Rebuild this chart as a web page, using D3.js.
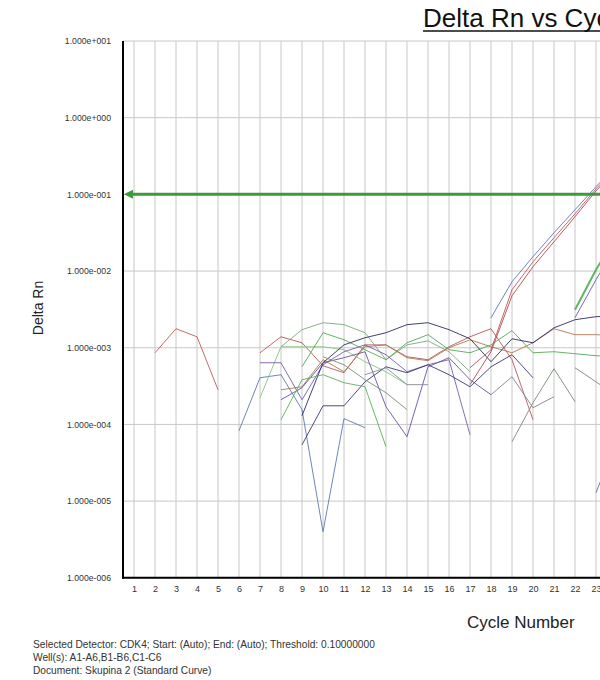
<!DOCTYPE html>
<html><head><meta charset="utf-8">
<script src="https://cdn.jsdelivr.net/npm/d3@7/dist/d3.min.js"></script>
<style>
body{margin:0;background:#fff;}
text{font-family:"Liberation Sans",Arial,sans-serif;}
</style>
</head><body>
<svg id="chart" width="600" height="680"></svg>
<script>
// ---- data ----
const gridCycles = [1,2,3,4,5,6,7,8,9,10,11,12,13,14,15,16,17,18,19,20,21,22,23,24];
const xTicks = [1,2,3,4,5,6,7,8,9,10,11,12,13,14,15,16,17,18,19,20,21,22,23];
const yTicks = [1e1,1e0,1e-1,1e-2,1e-3,1e-4,1e-5,1e-6];
const yTickLabels = ["1.000e+001","1.000e+000","1.000e-001","1.000e-002","1.000e-003","1.000e-004","1.000e-005","1.000e-006"];
const threshold = 0.1;
const titleText = "Delta Rn vs Cycle Number";
const xLabel = "Cycle Number";
const yLabel = "Delta Rn";
const footerLines = [
  "Selected Detector: CDK4; Start: (Auto); End: (Auto); Threshold: 0.10000000",
  "Well(s): A1-A6,B1-B6,C1-C6",
  "Document: Skupina 2 (Standard Curve)"
];

// each well: [cycle, Delta Rn]
const s01 = [[2,8.6e-4],[3,1.77e-3],[4,1.39e-3],[5,2.83e-4]];
const s02 = [[6,8.28e-5],[7,4.06e-4],[8,4.45e-4],[9,1.56e-4],[10,3.99e-6],[11,1.19e-4],[12,9.06e-5]];
const s03 = [[7,8.6e-4],[8,1.39e-3],[9,1.16e-3],[10,5.82e-4],[11,4.72e-4],[12,1.09e-3],[13,1.09e-3],[14,7.63e-4],[15,6.98e-4],[16,1.03e-3],[17,1.39e-3],[18,1.77e-3],[19,6.98e-4],[20,1.15e-4]];
const s04 = [[7,2.23e-4],[8,1.03e-3],[9,1.03e-3],[10,1.03e-3],[11,9.42e-4],[12,6.57e-4],[13,4.87e-4],[14,3.30e-4]];
const s05 = [[8,1.03e-3],[9,1.72e-3],[10,2.12e-3],[11,2.0e-3],[12,1.57e-3],[13,6.98e-4],[14,1.09e-3],[15,1.23e-3],[16,8.87e-4],[17,4.87e-4]];
const s06 = [[9,5.65e-4],[10,1.57e-3],[11,1.27e-3],[12,9.42e-4],[13,6.98e-4],[14,1.16e-3],[15,1.48e-3],[16,9.42e-4],[17,8.6e-4],[18,1.09e-3],[19,1.67e-3],[20,8.6e-4],[21,8.87e-4],[22,8.36e-4],[23,7.87e-4],[24,7.63e-4]];
const s07 = [[8,2.83e-4],[9,3.10e-4],[10,6.98e-4],[11,4.87e-4],[12,1.03e-3],[13,1.09e-3],[14,7.41e-4],[15,6.77e-4],[16,1.0e-3],[17,1.27e-3],[18,1.03e-3],[19,8.6e-4],[20,1.16e-3],[21,1.77e-3],[22,1.48e-3],[23,1.48e-3],[24,1.43e-3]];
const s08 = [[7,6.37e-4],[8,6.37e-4],[9,2.10e-4],[10,6.0e-4],[11,8.87e-4],[12,1.09e-3],[13,8.11e-4],[14,4.87e-4],[15,6.0e-4],[16,6.98e-4],[17,7.34e-5]];
const s09 = [[8,2.10e-4],[9,3.01e-4],[10,6.37e-4],[11,7.41e-4],[12,8.87e-4],[13,1.70e-4],[14,6.92e-5],[15,5.65e-4],[16,7.41e-4],[17,3.83e-4],[18,2.44e-4]];
const s10 = [[9,5.43e-5],[10,1.75e-4],[11,1.75e-4],[12,3.60e-4],[13,5.65e-4],[14,4.72e-4],[15,6.0e-4],[16,4.45e-4],[17,3.10e-4],[18,5.65e-4],[19,8.11e-4],[20,4.06e-4]];
const s11 = [[9,1.30e-4],[10,6.37e-4],[11,1.09e-3],[12,1.35e-3],[13,1.57e-3],[14,2.0e-3],[15,2.12e-3],[16,1.72e-3],[17,1.31e-3],[18,6.57e-4],[19,1.31e-3],[20,1.16e-3],[21,1.82e-3],[22,2.32e-3],[23,2.54e-3],[24,2.61e-3]];
const s12 = [[8,1.15e-4],[9,3.83e-4],[10,4.45e-4],[11,3.50e-4],[12,3.10e-4],[13,5.12e-5]];
const s13 = [[10,7.63e-4],[11,6.0e-4],[12,3.83e-4],[13,2.59e-4],[14,1.56e-4]];
const s14 = [[12,4.45e-4],[13,5.48e-4],[14,3.30e-4],[15,3.30e-4]];
const s15 = [[19,5.95e-5],[20,1.92e-4],[21,5.32e-4],[22,1.98e-4]];
const s16 = [[18,2.44e-4],[19,4.19e-4],[20,1.65e-4],[21,2.30e-4]];
const s17 = [[22,5.48e-4],[23,3.60e-4],[24,2.30e-4]];
const s18 = [[18,2.46e-3],[19,7.26e-3],[20,1.54e-2],[21,3.16e-2],[22,6.30e-2],[23,0.126],[24,0.243]];
const s19 = [[17,5.48e-4],[18,9.42e-4],[19,5.70e-3],[20,1.32e-2],[21,2.72e-2],[22,5.58e-2],[23,0.118],[24,0.229]];
const s20 = [[17,3.30e-4],[18,8.87e-4],[19,4.76e-3],[20,1.14e-2],[21,2.41e-2],[22,5.11e-2],[23,0.111],[24,0.216]];
const s21 = [[22,3.13e-3],[23,1.04e-2],[24,2.97e-2]];
const s22 = [[22,2.46e-3],[23,7.7e-3],[24,2.20e-2]];
const s23 = [[23,1.29e-5],[24,6.32e-5]];

const wells = [s01,s02,s03,s04,s05,s06,s07,s08,s09,s10,s11,s12,s13,s14,s15,s16,s17,s18,s19,s20,s21,s22,s23];
const wellColors = ["#b85c5c","#5b79b5","#b65a5a","#8cc47c","#80a880","#58a858","#b07a50","#7a5cb0","#6a52a0","#383874","#2e2e62","#5cb05c","#789078","#8a8a9a","#7a8a7a","#7c8490","#7a8a7a","#5b79b5","#c05858","#a85050","#4cb04c","#6a5ab0","#6a6aa0"];
const wellWidths = [1,1,1,1,1,1,1,1,1,1,1,1,1,1,1,1,1,1,1,1,2,1,1];

// ---- layout ----
const plotLeft = 123, plotTop = 41, plotBottom = 577.8;
const svg = d3.select("#chart");
const x = d3.scaleLinear().domain([0, 24]).range([113, 617]);
const y = d3.scaleLog().domain([1e-6, 10]).range([plotBottom, plotTop]);

// grid
const grid = svg.append("g");
grid.selectAll("line.v").data(gridCycles).join("line")
  .attr("x1", d => x(d)).attr("x2", d => x(d))
  .attr("y1", plotTop).attr("y2", plotBottom)
  .attr("stroke", "#c8c8c8").attr("stroke-width", 1);
grid.selectAll("line.h").data(yTicks).join("line")
  .attr("x1", plotLeft).attr("x2", 620)
  .attr("y1", d => y(d)).attr("y2", d => y(d))
  .attr("stroke", "#c8c8c8").attr("stroke-width", 1);

// clip
svg.append("clipPath").attr("id","plotclip").append("rect")
  .attr("x", plotLeft).attr("y", plotTop - 20).attr("width", 600).attr("height", plotBottom - plotTop + 20);

// wells
const line = d3.line().x(d => x(d[0])).y(d => y(d[1]));
svg.append("g").attr("clip-path","url(#plotclip)")
  .selectAll("path").data(wells).join("path")
  .attr("d", line)
  .attr("fill", "none")
  .attr("stroke", (d,i) => wellColors[i])
  .attr("stroke-width", (d,i) => wellWidths[i])
  .attr("stroke-opacity", 0.9)
  .attr("stroke-linejoin", "round");

// threshold
svg.append("line")
  .attr("x1", plotLeft + 4).attr("x2", 620)
  .attr("y1", y(threshold)).attr("y2", y(threshold))
  .attr("stroke", "#3c9a3c").attr("stroke-width", 3);
const ty = y(threshold);
svg.append("path")
  .attr("d", `M${plotLeft+1},${ty} L${plotLeft+10},${ty-4.5} L${plotLeft+10},${ty+4.5} Z`)
  .attr("fill", "#3c9a3c");

// axes lines
svg.append("line").attr("x1", plotLeft).attr("x2", plotLeft).attr("y1", plotTop).attr("y2", plotBottom + 1)
  .attr("stroke", "#000").attr("stroke-width", 2);
svg.append("line").attr("x1", plotLeft - 1).attr("x2", 620).attr("y1", plotBottom).attr("y2", plotBottom)
  .attr("stroke", "#000").attr("stroke-width", 2);

// x tick labels
const xAxis = svg.append("g").attr("transform", `translate(0,${plotBottom})`)
  .call(d3.axisBottom(x).tickValues(xTicks).tickSize(0).tickPadding(8).tickFormat(d3.format("d")));
xAxis.select(".domain").remove();
xAxis.selectAll("text").attr("font-size", 9).attr("fill", "#333").style("font-family", '"Liberation Sans",Arial,sans-serif');

// y tick labels
const yAxis = svg.append("g").attr("transform", `translate(${plotLeft},0)`)
  .call(d3.axisLeft(y).tickValues(yTicks).tickSize(0).tickPadding(12).tickFormat((d,i) => yTickLabels[i]));
yAxis.select(".domain").remove();
yAxis.selectAll("text").attr("font-size", 8.7).attr("fill", "#333").style("font-family", '"Liberation Sans",Arial,sans-serif');

// title
const title = svg.append("text").attr("x", 423).attr("y", 27)
  .attr("font-size", 26).attr("fill", "#111").text(titleText);
svg.append("line").attr("x1", 423).attr("x2", 423 + title.node().getComputedTextLength())
  .attr("y1", 31).attr("y2", 31).attr("stroke", "#111").attr("stroke-width", 1.3);

// axis labels
svg.append("text").attr("transform", "translate(43,308) rotate(-90)")
  .attr("text-anchor", "middle").attr("font-size", 14).attr("fill", "#222").text(yLabel);
svg.append("text").attr("x", 467).attr("y", 628)
  .attr("font-size", 17).attr("fill", "#222").text(xLabel);

// footer
svg.append("g").selectAll("text").data(footerLines).join("text")
  .attr("x", 33).attr("y", (d,i) => 648 + i * 13)
  .attr("font-size", 10.2).attr("fill", "#333").text(d => d);
</script>
</body></html>
